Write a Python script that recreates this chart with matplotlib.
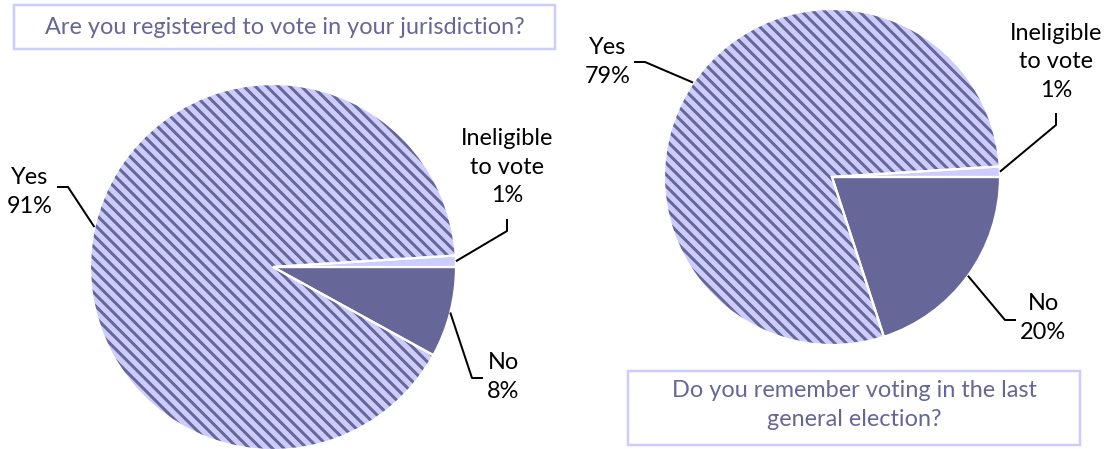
## Two pie charts about voter registration and voting recall

import numpy as np
import matplotlib.pyplot as plt
from matplotlib.patches import Rectangle
from matplotlib.collections import LineCollection

# Survey answers
answer_labels = ['Yes', 'Ineligible\nto vote', 'No']
registered_pct = [91, 1, 8]
voted_pct = [79, 1, 20]

title_registered = 'Are you registered to vote in your jurisdiction?'
title_voted = 'Do you remember voting in the last\ngeneral election?'

light = '#ccccff'
dark = '#666699'

W, H, DPI = 1110, 449, 100
PT = 72 / DPI  # pixels -> points
FS = 23.5 * PT

plt.rcParams['font.family'] = ['Lato', 'DejaVu Sans']

fig = plt.figure(figsize=(W / DPI, H / DPI), dpi=DPI)
ax = fig.add_axes([0, 0, 1, 1])


def py(y):
    # pixel row (from top) -> data y
    return H - y


def stripe(wedge, center, radius, gap=11.5):
    # diagonal stripes (down-right) clipped to the wedge
    cx, cy = center
    offsets = np.arange(cx + cy - 2 * radius, cx + cy + 2 * radius, gap)
    xs = np.array([cx - 2 * radius, cx + 2 * radius])
    segs = [np.column_stack([xs, c - xs]) for c in offsets]
    lc = LineCollection(segs, colors=dark, linewidths=3.0 * PT, zorder=wedge.get_zorder() + 0.1)
    ax.add_collection(lc)
    lc.set_clip_path(wedge)


def draw_pie(values, center, radius, label_spots):
    total = sum(values)
    start = -360 * values[2] / total
    wedges, _ = ax.pie(values, center=center, radius=radius, startangle=start,
                       counterclock=False, colors=[light, light, dark],
                       wedgeprops=dict(linewidth=0))
    stripe(wedges[0], center, radius)
    # white separators drawn on top
    outline, _ = ax.pie(values, center=center, radius=radius, startangle=start,
                        counterclock=False,
                        wedgeprops=dict(fill=False, linewidth=2.2 * PT, edgecolor='white'))
    for o in outline:
        o.set_zorder(5)

    for w, lab, val, (elbow, stub, text_xy) in zip(wedges, answer_labels, values, label_spots):
        mid = np.deg2rad((w.theta1 + w.theta2) / 2)
        anchor = (center[0] + radius * np.cos(mid), center[1] + radius * np.sin(mid))
        xs = [anchor[0], elbow[0], stub[0]]
        ys = [anchor[1], py(elbow[1]), py(stub[1])]
        ax.plot(xs, ys, color='black', lw=2 * PT, solid_capstyle='butt', zorder=6)
        ax.text(text_xy[0], py(text_xy[1]), f'{lab}\n{val}%', ha='center', va='center',
                fontsize=FS, linespacing=1.42, color='black')


draw_pie(registered_pct, (273, py(267)), 183,
         [((68, 187), (57, 187), (30, 192)),
          ((507, 231), (507, 219), (507, 167)),
          ((472, 378), (483, 378), (503, 377))])

draw_pie(voted_pct, (832, py(177)), 168,
         [((645, 62), (634, 62), (608, 62)),
          ((1056, 125), (1056, 113), (1056, 62)),
          ((1005, 320), (1016, 320), (1043, 318))])

# Title boxes
ax.add_patch(Rectangle((14, py(49)), 541, 44, fill=False, edgecolor=light, lw=2.5 * PT))
ax.text(285, py(28), title_registered, ha='center', va='center',
        fontsize=FS, color=dark)

ax.add_patch(Rectangle((628, py(445)), 452, 74, fill=False, edgecolor=light, lw=2.5 * PT))
ax.text(854, py(405), title_voted, ha='center', va='center',
        fontsize=FS, color=dark, linespacing=1.42)

# pie() resets the limits, so fix the pixel frame afterwards
ax.set_xlim(0, W)
ax.set_ylim(0, H)
ax.set_aspect('equal')
ax.axis('off')

fig.savefig('out.png', dpi=DPI)
